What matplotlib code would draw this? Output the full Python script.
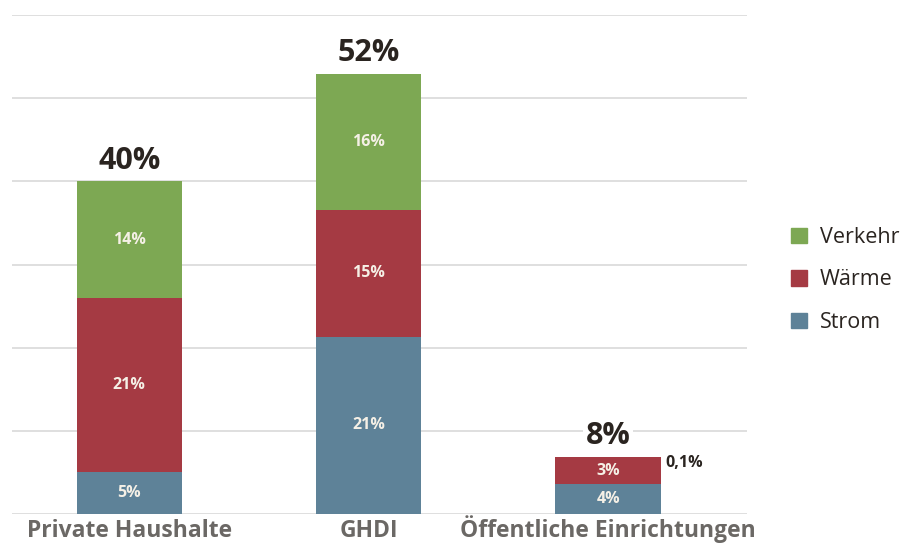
import matplotlib
matplotlib.use("Agg")
import matplotlib.pyplot as plt
from matplotlib.patches import Patch

categories = ["Private Haushalte", "GHDI", "Öffentliche Einrichtungen"]
strom = [5, 21.3, 3.65]
waerme = [21, 15.3, 3.15]
verkehr = [14, 16.3, 0.1]
strom_labels = ["5%", "21%", "4%"]
waerme_labels = ["21%", "15%", "3%"]
verkehr_labels = ["14%", "16%", "0,1%"]
total_labels = ["40%", "52%", "8%"]
series_names = ["Verkehr", "Wärme", "Strom"]

c_strom = "#5E8298"
c_waerme = "#A53A43"
c_verkehr = "#7DA853"
txt_dark = "#2A2420"
tick_gray = "#6B6865"
seg_txt = "#F5F0E6"

plt.rcParams['font.family'] = ['Open Sans', 'DejaVu Sans']

W, H = 902, 544
fig = plt.figure(figsize=(W / 100, H / 100), dpi=100)
ax = fig.add_axes([12 / W, 30 / H, (747 - 12) / W, (514 - 15) / H])
ax.set_xlim(-0.49, 2.58)
ax.set_ylim(0, 60)

x = list(range(len(categories)))
w = 0.44
ax.bar(x, strom, w, color=c_strom, zorder=3)
ax.bar(x, waerme, w, bottom=strom, color=c_waerme, zorder=3)
bottom3 = [s + h for s, h in zip(strom, waerme)]
ax.bar(x, verkehr, w, bottom=bottom3, color=c_verkehr, zorder=3)

seg_kw = dict(ha="center", va="center", color=seg_txt, fontsize=11.5,
              fontweight="bold", zorder=4)
for i in x:
    ax.text(i, strom[i] / 2, strom_labels[i], **seg_kw)
    ax.text(i, strom[i] + waerme[i] / 2, waerme_labels[i], **seg_kw)
    top = strom[i] + waerme[i] + verkehr[i]
    if verkehr[i] >= 1:
        ax.text(i, bottom3[i] + verkehr[i] / 2, verkehr_labels[i], **seg_kw)
    else:
        ax.text(i + w / 2 + 0.02, top - 0.75, verkehr_labels[i], ha="left",
                va="center", color=txt_dark, fontsize=11.5,
                fontweight="bold", zorder=4)
    ax.text(i, top + 0.7, total_labels[i], ha="center", va="bottom",
            color=txt_dark, fontsize=22, fontweight="bold", zorder=5,
            bbox=dict(facecolor="white", edgecolor="none", pad=2))

ax.set_yticks(range(0, 61, 10))
ax.yaxis.grid(True, color="#D9D9D9", linewidth=1.2, zorder=0)
ax.tick_params(axis="y", left=False, labelleft=False)
ax.set_xticks(x)
ax.set_xticklabels([])
ax.tick_params(axis="x", bottom=False)
for s in ax.spines.values():
    s.set_visible(False)

# category labels, aligned on a common baseline
for i, c in enumerate(categories):
    ax.annotate(c, xy=(i, 0), xycoords=("data", "axes fraction"),
                xytext=(0, -23), textcoords="offset pixels",
                ha="center", va="baseline", fontsize=16.5, fontweight="bold",
                color=tick_gray, annotation_clip=False)

handles = [Patch(color=c_verkehr), Patch(color=c_waerme), Patch(color=c_strom)]
fig.legend(handles, series_names, loc="center left",
           bbox_to_anchor=(791 / W, (H - 280) / H), frameon=False,
           fontsize=15.5, borderpad=0, borderaxespad=0,
           handlelength=0.75, handleheight=0.75, handletextpad=0.6,
           labelspacing=1.0, labelcolor=txt_dark)

fig.savefig("out.png", dpi=100)
